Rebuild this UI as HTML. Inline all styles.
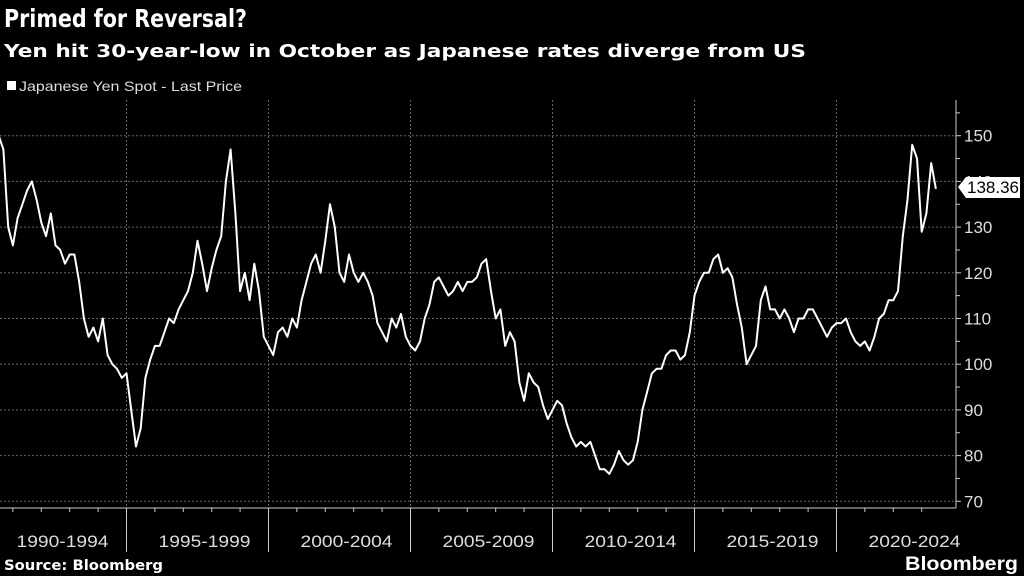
<!DOCTYPE html>
<html><head><meta charset="utf-8"><style>
body{margin:0;background:#000;width:1024px;height:576px;overflow:hidden;font-family:"Liberation Sans","DejaVu Sans",sans-serif;color:#fff}
svg{position:absolute;left:0;top:0}
</style></head><body>
<svg width="1024" height="576">
<text x="4" y="27" font-size="25" font-weight="bold" fill="#fff" font-family="DejaVu Sans, sans-serif" textLength="243" lengthAdjust="spacingAndGlyphs">Primed for Reversal?</text>
<text x="4" y="57" font-size="18" font-weight="bold" fill="#fff" font-family="DejaVu Sans, sans-serif" textLength="802" lengthAdjust="spacingAndGlyphs">Yen hit 30-year-low in October as Japanese rates diverge from US</text>
<rect x="7" y="81" width="9" height="9" fill="#fff"/>
<text x="19" y="91" font-size="14" fill="#ddd" textLength="223" lengthAdjust="spacingAndGlyphs">Japanese Yen Spot - Last Price</text>
<g id="grid"></g>
<g id="axes"></g>
<path id="line" fill="none" stroke="#fff" stroke-width="2" stroke-linejoin="round"/>
<g>
<path d="M958,187 L966,177 L1020,177 L1020,198 L966,198 Z" fill="#fff"/>
<text x="993" y="193" font-size="17" fill="#000" text-anchor="middle">138.36</text>
</g>
<text x="4" y="570" font-size="14" font-weight="bold" fill="#fff" font-family="DejaVu Sans, sans-serif" textLength="159" lengthAdjust="spacingAndGlyphs">Source: Bloomberg</text>
<text x="1018" y="570" font-size="19" font-weight="bold" fill="#fff" text-anchor="end" textLength="113" lengthAdjust="spacingAndGlyphs">Bloomberg</text>
</svg>
<script>
const startYear = 1990.5;
const stepYears = 1/6;
const values = [
150,147,130,126,132,135,
138,140,136,131,128,133,
126,125,122,124,124,118,
110,106,108,105,110,102,
100,99,97,98,90,82,
86,97,101,104,104,107,
110,109,112,114,116,120,
127,122,116,121,125,128,
140,147,133,116,120,114,
122,116,106,104,102,107,
108,106,110,108,114,118,
122,124,120,127,135,130,
120,118,124,120,118,120,
118,115,109,107,105,110,
108,111,106,104,103,105,
110,113,118,119,117,115,
116,118,116,118,118,119,
122,123,116,110,112,104,
107,105,96,92,98,96,
95,91,88,90,92,91,
87,84,82,83,82,83,
80,77,77,76,78,81,
79,78,79,83,90,94,
98,99,99,102,103,103,
101,102,107,115,118,120,
120,123,124,120,121,119,
113,108,100,102,104,114,
117,112,112,110,112,110,
107,110,110,112,112,110,
108,106,108,109,109,110,
107,105,104,105,103,106,
110,111,114,114,116,128,
136,148,145,129,133,144,138.36
];
const yTicks = [70,80,90,100,110,120,130,140,150];
const periodLabels = ["1990-1994","1995-1999","2000-2004","2005-2009","2010-2014","2015-2019","2020-2024"];
const periodStarts = [1990,1995,2000,2005,2010,2015,2020];

const NS="http://www.w3.org/2000/svg";
const X = yr => 126.5 + (yr-1995)*28.4;
const Y = v => 135.7 + (150-v)*4.57;
const AXR = 956, AXB = 508;
function mk(tag, attrs, parent){const e=document.createElementNS(NS,tag);for(const k in attrs)e.setAttribute(k,attrs[k]);parent.appendChild(e);return e;}
const grid=document.getElementById('grid'), axes=document.getElementById('axes');
yTicks.forEach(v=>{
  const l=mk('line',{x1:0,x2:AXR,y1:Y(v),y2:Y(v),stroke:'#666','stroke-dasharray':'2,2','stroke-width':1},grid);
  
  
  mk('line',{x1:AXR,x2:AXR+5,y1:Y(v),y2:Y(v),stroke:'#ccc'},axes);
  const tx=mk('text',{x:AXR+8,y:Y(v)+6,'font-size':17,fill:'#ddd'},axes);
  tx.textContent=v;
  
  
  if(v<150){mk('line',{x1:AXR,x2:AXR+4,y1:Y(v+5),y2:Y(v+5),stroke:'#ccc'},axes);}
});
mk('line',{x1:AXR,x2:AXR+4,y1:Y(155),y2:Y(155),stroke:'#ccc'},axes);
mk('line',{x1:AXR,x2:AXR,y1:100,y2:AXB,stroke:'#ccc'},axes);
mk('line',{x1:0,x2:AXR,y1:AXB,y2:AXB,stroke:'#ccc'},axes);
for(let y=1991;y<2024;y++){mk('line',{x1:X(y),x2:X(y),y1:AXB,y2:AXB+4,stroke:'#ccc'},axes);}
periodStarts.forEach((s,i)=>{
  if(i>0){
    const g=mk('line',{x1:X(s),x2:X(s),y1:100,y2:AXB,stroke:'#666','stroke-dasharray':'2,2'},grid);
    
    
    mk('line',{x1:X(s),x2:X(s),y1:AXB,y2:552,stroke:'#ccc'},axes);
  }
  const t=mk('text',{x:X(s+2.5)+7,y:547,'font-size':17,fill:'#ddd','text-anchor':'middle',textLength:92,lengthAdjust:'spacingAndGlyphs'},axes);
  t.textContent=periodLabels[i];
  
  
});
let d='';
values.forEach((v,i)=>{d+=(i?'L':'M')+X(startYear+i*stepYears).toFixed(1)+','+Y(v).toFixed(1);});
document.getElementById('line').setAttribute('d',d);
</script>
</body></html>
